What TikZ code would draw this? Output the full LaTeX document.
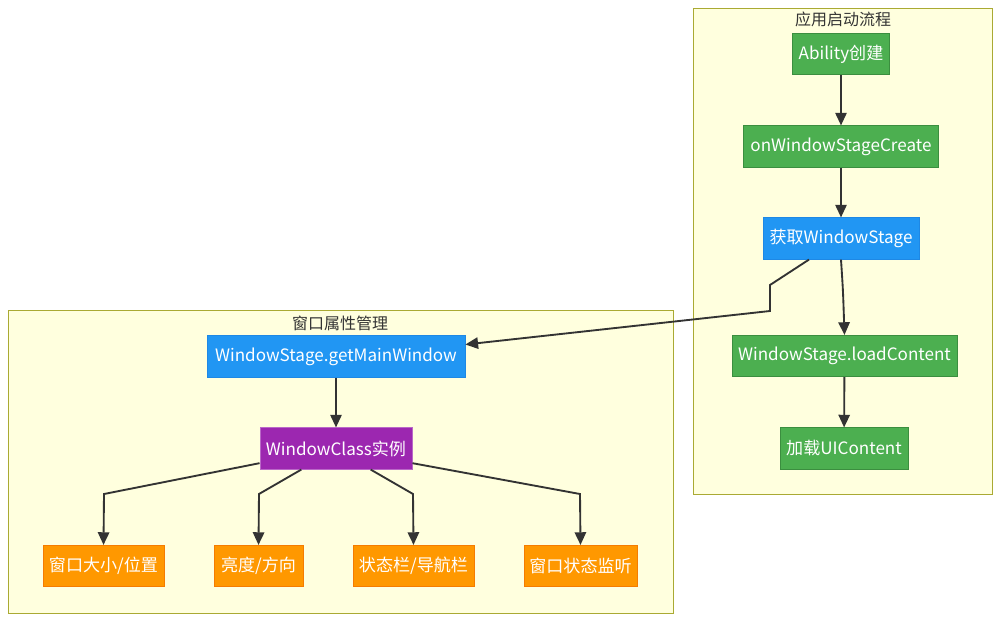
\documentclass[tikz,border=0pt]{standalone}
\usepackage{fontspec}
\setmainfont{Noto Sans CJK SC}
\usetikzlibrary{arrows.meta}
\definecolor{cfill}{HTML}{FFFFDE}
\definecolor{cline}{HTML}{AAAA33}
\definecolor{edge}{HTML}{333333}
\definecolor{gfill}{HTML}{4CAF50}
\definecolor{gline}{HTML}{3B8E3F}
\definecolor{bfill}{HTML}{2196F3}
\definecolor{bline}{HTML}{1E88E5}
\definecolor{pfill}{HTML}{9C27B0}
\definecolor{pline}{HTML}{BA68C8}
\definecolor{ofill}{HTML}{FF9800}
\definecolor{oline}{HTML}{F57C00}
\tikzset{
  box/.style={draw, line width=0.6pt, text=white, font=\fontsize{12.8pt}{14pt}\selectfont, minimum height=31pt, inner sep=0pt},
  gbox/.style={box, fill=gfill, draw=gline},
  bbox/.style={box, fill=bfill, draw=bline},
  pbox/.style={box, fill=pfill, draw=pline},
  obox/.style={box, fill=ofill, draw=oline},
  cluster/.style={fill=cfill, draw=cline, line width=0.7pt},
  ctitle/.style={text=edge, font=\fontsize{12pt}{13pt}\selectfont, inner sep=0pt},
  arr/.style={draw=edge, line width=1.4pt, -{Triangle[length=9.5pt,width=8.5pt]}, line join=miter}
}
\begin{document}
\begin{tikzpicture}[x=0.75pt,y=-0.75pt]
\useasboundingbox (0,0) rectangle (1000,621);
\fill[white] (0,0) rectangle (1000,621);
% clusters
\draw[cluster] (693,8) rectangle (992,494);
\node[ctitle] (t1) at (843,19) {应用启动流程};
\draw[cluster] (8,310) rectangle (673,613);
\node[ctitle] (t2) at (340,323) {窗口属性管理};
% right flow
\node[gbox, minimum width=72.75pt] (ab) at (841,54) {Ability创建};
\node[gbox, minimum width=146.25pt] (oc) at (841,146.5) {onWindowStageCreate};
\node[bbox, minimum width=117pt] (ws) at (841,238.5) {获取WindowStage};
\node[gbox, minimum width=168.75pt] (lc) at (844.5,356) {WindowStage.loadContent};
\node[gbox, minimum width=96pt] (ui) at (844,448.5) {加载UIContent};
% left flow
\node[bbox, minimum width=193.5pt] (gm) at (336,356.5) {WindowStage.getMainWindow};
\node[pbox, minimum width=114pt] (wc) at (336,448.5) {WindowClass实例};
\node[obox, minimum width=90.75pt] (o1) at (103.5,566) {窗口大小/位置};
\node[obox, minimum width=66.75pt] (o2) at (258.5,566) {亮度/方向};
\node[obox, minimum width=90.75pt] (o3) at (413.5,566) {状态栏/导航栏};
\node[obox, minimum width=84.75pt] (o4) at (580.5,566) {窗口状态监听};
% edges
\draw[arr] (ab) -- (oc);
\draw[arr] (oc) -- (ws);
\draw[arr] (ws.south) .. controls (843,290) .. (lc.north);
\draw[arr] (lc) -- (ui);
\draw[arr] ([xshift=-24pt]ws.south) -- (770,285) -- (770,311) -- ([yshift=9pt]gm.east);
\draw[arr] (gm) -- (wc);
\draw[arr] ([yshift=-11pt]wc.west) -- (104,494) -- (o1.north);
\draw[arr] ([xshift=-26pt]wc.south) -- (259,494) -- (o2.north);
\draw[arr] ([xshift=26pt]wc.south) -- (413,494) -- (o3.north);
\draw[arr] ([yshift=-11pt]wc.east) -- (580,494) -- (o4.north);
\end{tikzpicture}
\end{document}
